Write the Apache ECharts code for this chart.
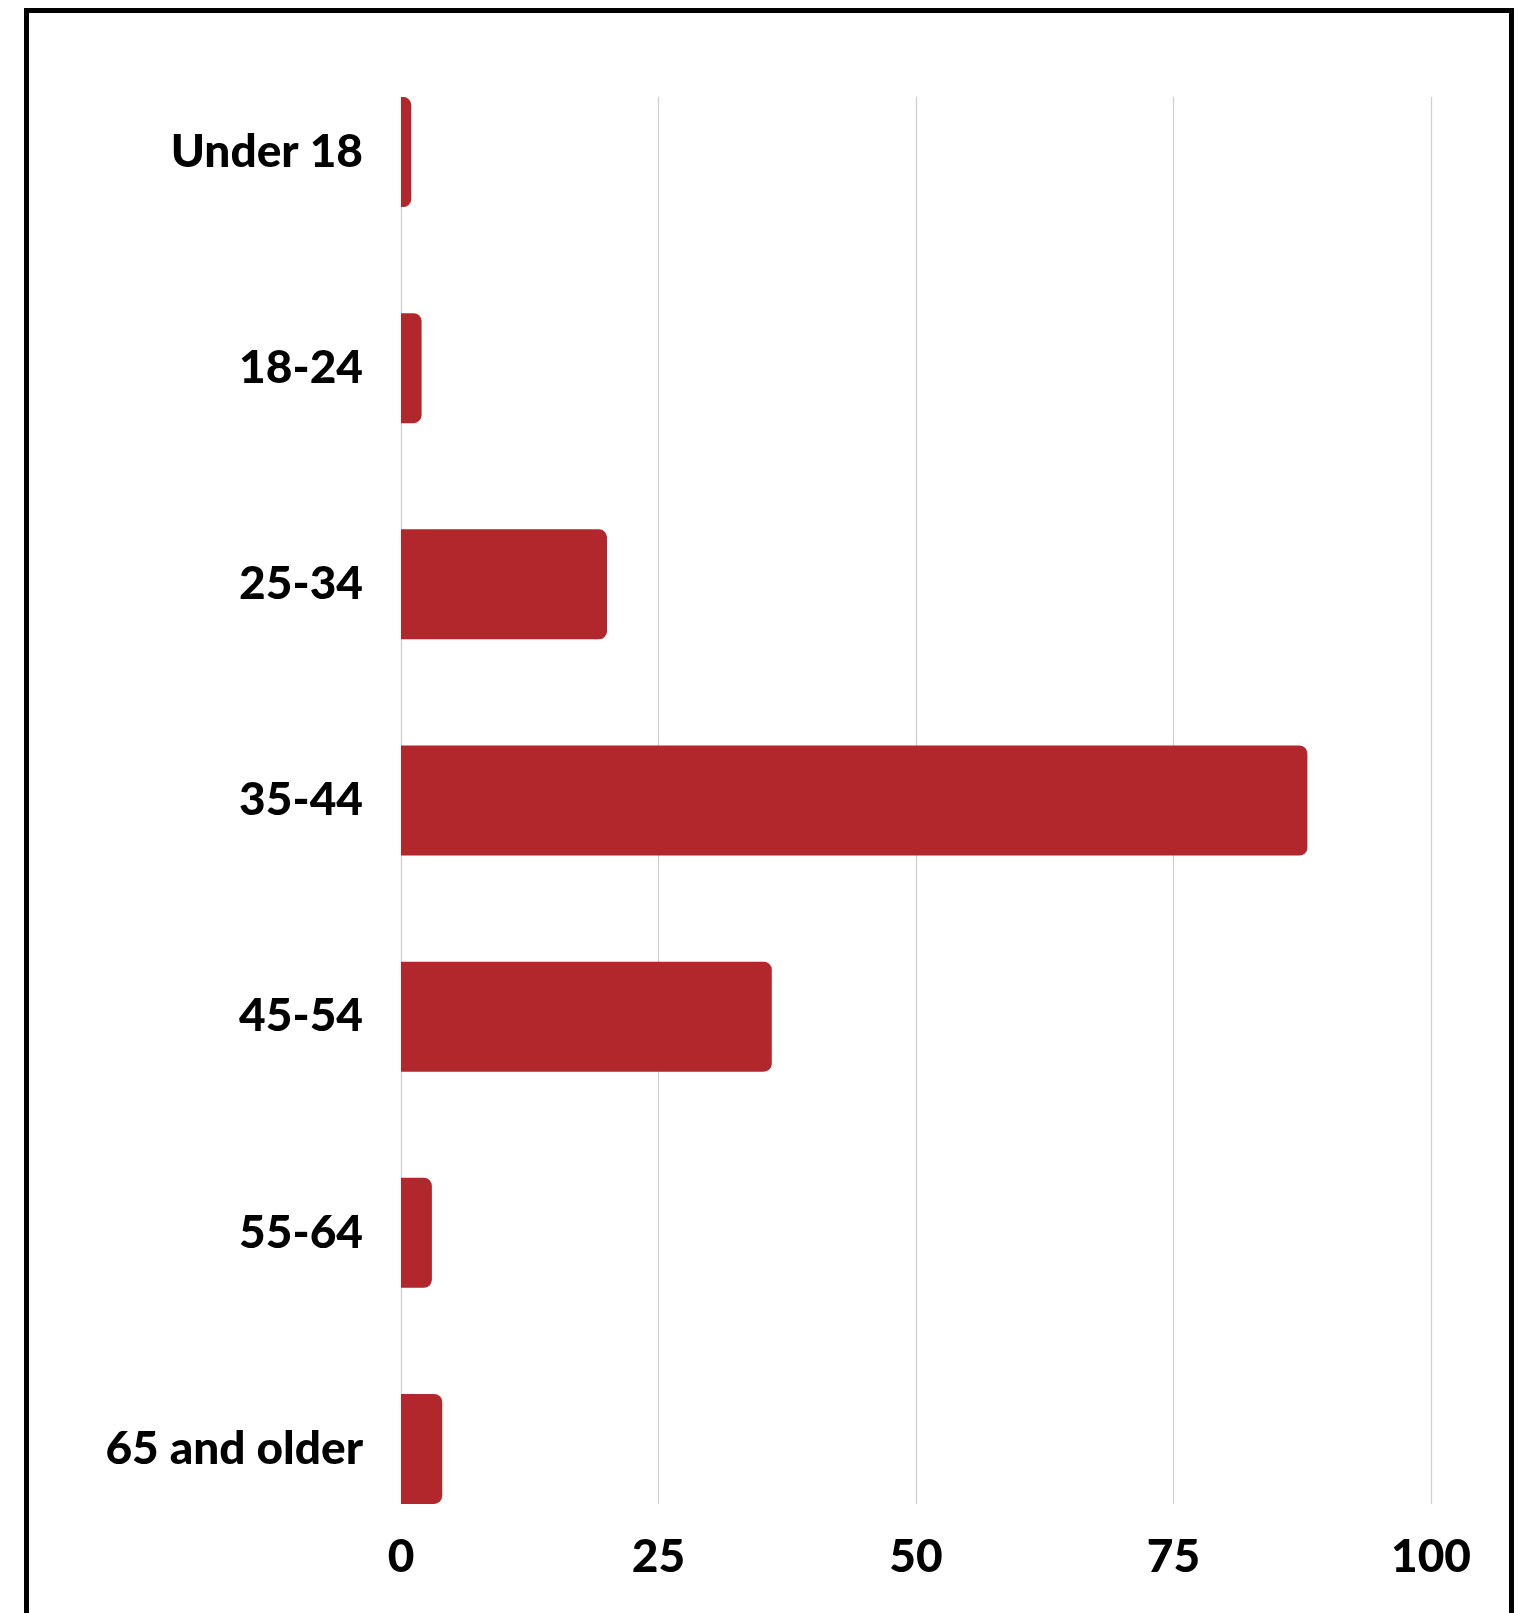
<!DOCTYPE html>
<html>
<head>
<meta charset="utf-8">
<script src="https://cdn.jsdelivr.net/npm/echarts@6/dist/echarts.min.js"></script>
<style>
  html, body { margin: 0; padding: 0; background: #fff; }
  #frame { position: absolute; left: 24px; top: 8px; width: 1490px; height: 1700px; border: 5px solid #000; box-sizing: border-box; }
  #chart { position: absolute; left: 0; top: 0; width: 1530px; height: 1613px; }
</style>
</head>
<body>
<div id="frame"></div>
<div id="chart"></div>
<script>
const categories = ['Under 18', '18-24', '25-34', '35-44', '45-54', '55-64', '65 and older'];
const values = [1, 2, 20, 88, 36, 3, 4];
const tickValues = [0, 25, 50, 75, 100];

const FONT = 'Lato';
const chart = echarts.init(document.getElementById('chart'), null, { renderer: 'canvas' });
chart.setOption({
  backgroundColor: 'transparent',
  animation: false,
  grid: [
    { left: 401, right: 99, top: 97, bottom: 109 },
    { left: 401, right: 99, top: 44, bottom: 56 }
  ],
  xAxis: [
    {
      gridIndex: 0, type: 'value', min: tickValues[0], max: tickValues[tickValues.length - 1], interval: 25,
      axisLine: { show: false }, axisTick: { show: false },
      splitLine: { show: true, lineStyle: { color: '#d0d0d0', width: 1.3 } },
      axisLabel: { show: true, margin: 30, fontFamily: FONT, fontWeight: 900, fontSize: 46, color: '#000' }
    },
    {
      gridIndex: 1, type: 'value', min: tickValues[0], max: tickValues[tickValues.length - 1], interval: 25,
      axisLine: { show: false }, axisTick: { show: false }, splitLine: { show: false }, axisLabel: { show: false }
    }
  ],
  yAxis: [
    {
      gridIndex: 0, type: 'category', data: categories, inverse: true,
      axisLine: { show: false }, axisTick: { show: false }, axisLabel: { show: false }, splitLine: { show: false }
    },
    {
      gridIndex: 1, type: 'category', data: categories, inverse: true,
      axisLine: { show: false }, axisTick: { show: false }, splitLine: { show: false },
      axisLabel: { show: true, margin: 38, fontFamily: FONT, fontWeight: 900, fontSize: 46, color: '#000' }
    }
  ],
  series: [{
    type: 'bar', xAxisIndex: 1, yAxisIndex: 1, data: values,
    barWidth: 110,
    itemStyle: { color: '#b2272c', borderRadius: [0, 8, 8, 0] }
  }]
});
</script>
</body>
</html>
